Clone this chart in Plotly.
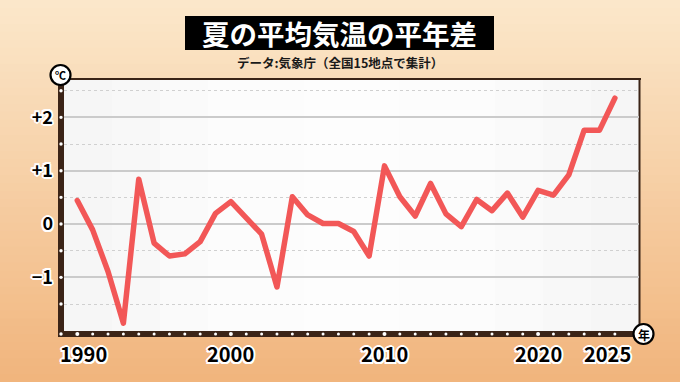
import plotly.graph_objects as go

# ---------------- data ----------------
years = list(range(1990, 2026))
anomaly = [0.44, -0.11, -0.89, -1.86, 0.84, -0.36, -0.60, -0.56, -0.33, 0.20,
           0.42, 0.11, -0.19, -1.18, 0.51, 0.17, 0.01, 0.01, -0.14, -0.60,
           1.09, 0.51, 0.15, 0.76, 0.19, -0.05, 0.46, 0.25, 0.58, 0.13,
           0.63, 0.54, 0.92, 1.76, 1.76, 2.36]
y_tickvals = [-1, 0, 1, 2]
y_ticktext = ["−1", "0", "+1", "+2"]
y_minorvals = [-1.5, -0.5, 0.5, 1.5, 2.5]
x_tickvals = [1990, 2000, 2010, 2020, 2025]
x_ticktext = ["1990", "2000", "2010", "2020", "2025"]
title_text = "夏の平均気温の平年差"
source_text = "データ:気象庁（全国15地点で集計）"
y_unit = "℃"
x_unit = "年"

# ---------------- layout geometry (pixels) ----------------
W, H = 680, 382
L, R, T, B = 64, 639, 79, 331
X_RANGE = [1989.134, 2026.57]
Y_RANGE = [-2.006, 2.719]


def px(xp):
    return (xp - L) / (R - L)


def py(yp):
    return (B - yp) / (B - T)


JP = "Noto Sans CJK JP"
DARK = "#3b2417"
halo = ("-1.5px -1.5px 0 #fff, 1.5px -1.5px 0 #fff, -1.5px 1.5px 0 #fff, "
        "1.5px 1.5px 0 #fff, 0 2px 0 #fff, 2px 0 0 #fff, -2px 0 0 #fff, 0 -2px 0 #fff")

shapes = []
# background vertical gradient
top_c = (251, 231, 202)
bot_c = (241, 181, 125)
n = 48
for i in range(n):
    t = i / (n - 1)
    c = tuple(round(top_c[k] + (bot_c[k] - top_c[k]) * t) for k in range(3))
    y0p = H * i / n
    y1p = H * (i + 1) / n + 1
    shapes.append(dict(type="rect", xref="paper", yref="paper", layer="below",
                       x0=px(0), x1=px(W), y0=py(y1p), y1=py(y0p),
                       fillcolor="rgb(%d,%d,%d)" % c, line=dict(width=0)))
# plot area background with subtle horizontal shading
m = 12
for i in range(m):
    t = abs((i + 0.5) / m - 0.5) * 2
    g = round(253 - 8 * t * t)
    x0p = L + (R - L) * i / m
    x1p = L + (R - L) * (i + 1) / m + 1
    shapes.append(dict(type="rect", xref="paper", yref="paper", layer="below",
                       x0=px(x0p), x1=px(min(x1p, R)), y0=0, y1=1,
                       fillcolor="rgb(%d,%d,%d)" % (g, g, g), line=dict(width=0)))
# frame: left thick bar, bottom thick bar, thin top & right
shapes += [
    dict(type="rect", xref="paper", yref="paper", layer="below",
         x0=px(58), x1=px(64), y0=py(337), y1=py(82), fillcolor=DARK, line=dict(width=0)),
    dict(type="rect", xref="paper", yref="paper", layer="below",
         x0=px(58), x1=px(641), y0=py(337), y1=py(331), fillcolor=DARK, line=dict(width=0)),
    dict(type="rect", xref="paper", yref="paper", layer="below",
         x0=px(62), x1=px(641), y0=py(80), y1=py(78), fillcolor=DARK, line=dict(width=0)),
    dict(type="rect", xref="paper", yref="paper", layer="below",
         x0=px(638.5), x1=px(640.5), y0=py(334), y1=py(78), fillcolor=DARK, line=dict(width=0)),
]
# white tick dots on the frame bars, placed from the axis values
for yr in years:
    r = 2.0 if yr % 10 == 0 else 1.5
    shapes.append(dict(type="circle", layer="below", xref="x", yref="paper",
                       xsizemode="pixel", xanchor=yr, x0=-r, x1=r,
                       ysizemode="pixel", yanchor=py(334), y0=-r, y1=r,
                       fillcolor="white", line=dict(width=0)))
for v in y_minorvals + y_tickvals:
    shapes.append(dict(type="circle", layer="below", xref="paper", yref="y",
                       xsizemode="pixel", xanchor=px(61), x0=-1.7, x1=1.7,
                       ysizemode="pixel", yanchor=v, y0=-1.7, y1=1.7,
                       fillcolor="white", line=dict(width=0)))
shapes.append(dict(type="circle", layer="below", xref="paper", yref="paper",
                   xsizemode="pixel", xanchor=px(61), x0=-1.7, x1=1.7,
                   ysizemode="pixel", yanchor=py(334), y0=-1.7, y1=1.7,
                   fillcolor="white", line=dict(width=0)))
# unit circles
for cx, cy in [(60.5, 75), (643.5, 334)]:
    shapes.append(dict(type="circle", xref="paper", yref="paper", layer="below",
                       x0=px(cx - 10), x1=px(cx + 10), y0=py(cy + 10), y1=py(cy - 10),
                       fillcolor="white", line=dict(color="black", width=2.2)))
# title box
shapes.append(dict(type="rect", xref="paper", yref="paper", layer="below",
                   x0=px(185), x1=px(494), y0=py(50), y1=py(16),
                   fillcolor="black", line=dict(width=0)))

annotations = [
    dict(text="<b>%s</b>" % title_text, xref="paper", yref="paper",
         x=px(339.5), y=py(33), showarrow=False, xanchor="center", yanchor="middle",
         font=dict(family=JP, size=27.5, color="white")),
    dict(text="<b>%s</b>" % source_text, xref="paper", yref="paper",
         x=px(339.5), y=py(62), showarrow=False, xanchor="center", yanchor="middle",
         font=dict(family=JP, size=12.5, color="#1a1a1a")),
    dict(text="<b>%s</b>" % y_unit, xref="paper", yref="paper",
         x=px(60.5), y=py(75), showarrow=False, xanchor="center", yanchor="middle",
         font=dict(family=JP, size=11, color="black")),
    dict(text="<b>%s</b>" % x_unit, xref="paper", yref="paper",
         x=px(643.5), y=py(334), showarrow=False, xanchor="center", yanchor="middle",
         font=dict(family=JP, size=12, color="black")),
]
# x tick labels (first/last nudged inward as in the original)
for i, (v, txt) in enumerate(zip(x_tickvals, x_ticktext)):
    shift = 6 if i == 0 else (-7 if i == len(x_tickvals) - 1 else 0)
    annotations.append(dict(text=txt, xref="x", yref="paper", x=v, y=py(353),
                            xshift=shift, showarrow=False, xanchor="center", yanchor="middle",
                            font=dict(family=JP, size=20, color="black", weight="bold",
                                      shadow=halo)))

fig = go.Figure()
# the data line
fig.add_trace(go.Scatter(x=years, y=anomaly, mode="lines",
                         line=dict(color="#f25757", width=5.5),
                         cliponaxis=False, hoverinfo="skip", showlegend=False))

fig.update_layout(
    width=W, height=H,
    margin=dict(l=L, r=W - R, t=T, b=H - B, pad=0),
    paper_bgcolor="rgb(%d,%d,%d)" % top_c,
    plot_bgcolor="rgba(0,0,0,0)",
    shapes=shapes, annotations=annotations, showlegend=False,
    xaxis=dict(range=X_RANGE, showgrid=False, zeroline=False, showline=False,
               showticklabels=False, ticks=""),
    yaxis=dict(range=Y_RANGE, zeroline=False, showline=False,
               tickvals=y_tickvals, ticktext=y_ticktext, ticks="",
               showgrid=True, gridcolor="#cbcbcb", gridwidth=1.5,
               ticklabelstandoff=10,
               tickfont=dict(family=JP, size=18, color="black", weight="bold", shadow=halo),
               minor=dict(tickvals=y_minorvals, showgrid=True, gridcolor="#d0d0d0",
                          gridwidth=1, griddash="dot")),
)

post = ("document.body.style.margin='0';"
        "document.querySelectorAll('.js-line').forEach(function(p){"
        "p.style.strokeLinejoin='round';p.style.strokeLinecap='round';});")
fig.write_html("out.html", config={"displayModeBar": False}, post_script=post)
